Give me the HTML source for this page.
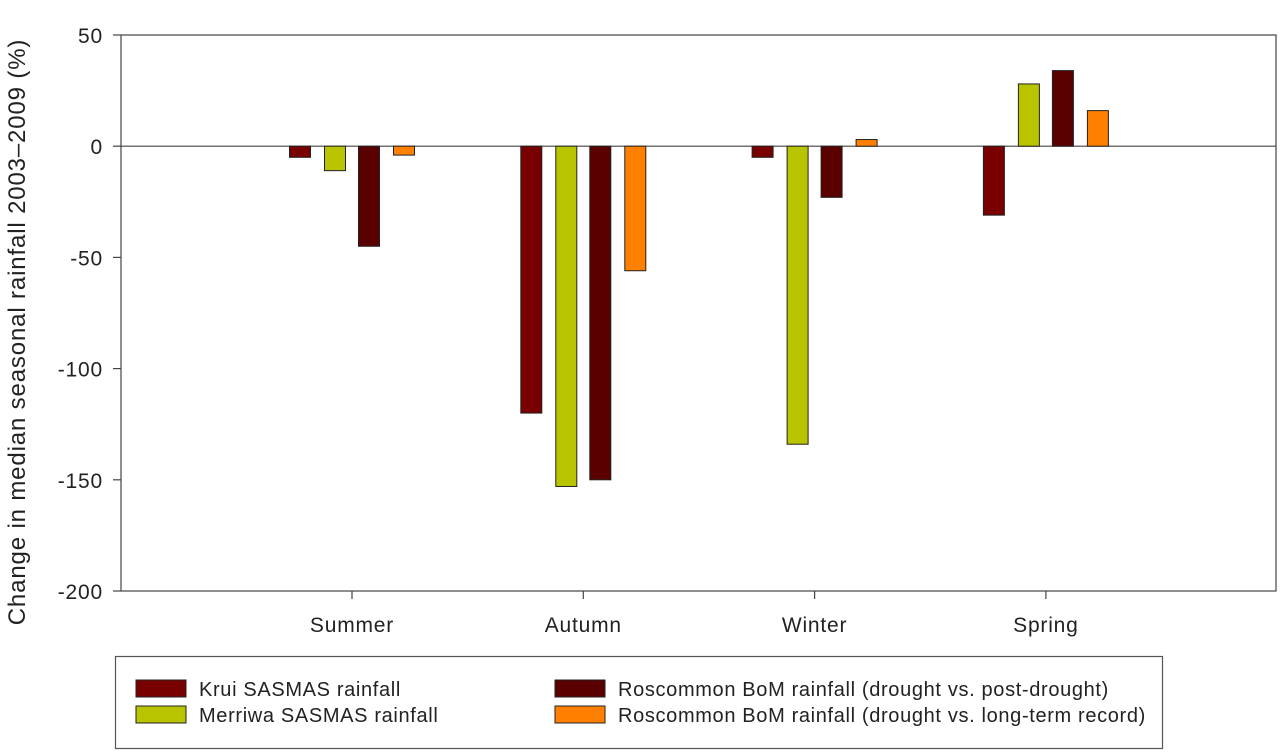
<!DOCTYPE html>
<html><head><meta charset="utf-8"><style>
body{margin:0;background:#fff;font-family:"Liberation Sans",sans-serif}
</style></head><body>
<svg id="chart" width="1280" height="750" xmlns="http://www.w3.org/2000/svg" font-family="Liberation Sans, sans-serif">
<g id="axes"></g><g id="bars"></g>
<g font-size="20" letter-spacing="0.65">
<rect x="115.5" y="656.5" width="1047" height="92" fill="#fff" stroke="#555" stroke-width="1.2"/>
<rect x="136" y="680" width="50" height="17" fill="#780000" stroke="#222"/>
<text x="199" y="696" fill="#222">Krui SASMAS rainfall</text>
<rect x="136" y="706" width="50" height="17" fill="#b8c400" stroke="#222"/>
<text x="199" y="722" fill="#222">Merriwa SASMAS rainfall</text>
<rect x="555" y="680" width="50" height="17" fill="#5a0000" stroke="#222"/>
<text x="618" y="696" fill="#222">Roscommon BoM rainfall (drought vs. post-drought)</text>
<rect x="555" y="706" width="50" height="17" fill="#ff8000" stroke="#222"/>
<text x="618" y="722" fill="#222">Roscommon BoM rainfall (drought vs. long-term record)</text>
</g>
<text transform="translate(25,332) rotate(-90)" text-anchor="middle" font-size="24" letter-spacing="0.85" fill="#222">Change in median seasonal rainfall 2003–2009 (%)</text>
</svg>
<script>
const categories=["Summer","Autumn","Winter","Spring"];
const seriesNames=["Krui SASMAS rainfall","Merriwa SASMAS rainfall","Roscommon BoM rainfall (drought vs. post-drought)","Roscommon BoM rainfall (drought vs. long-term record)"];
const krui=[-5,-120,-5,-31];
const merriwa=[-11,-153,-134,28];
const roscPost=[-45,-150,-23,34];
const roscLong=[-4,-56,3,16];
const yTicks=[50,0,-50,-100,-150,-200];
const colors=["#780000","#b8c400","#5a0000","#ff8000"];
const series=[krui,merriwa,roscPost,roscLong];
const NS="http://www.w3.org/2000/svg";
const L=121,R=1276,T=35,B=591,yMax=50,yMin=-200;
const y=v=>T+(yMax-v)*(B-T)/(yMax-yMin);
const cx=i=>352+i*231.3;
const offs=[-52,-17,17,52],bw=21;
function mk(t,a,p){const e=document.createElementNS(NS,t);for(const k in a)e.setAttribute(k,a[k]);p.appendChild(e);return e;}
const ax=document.getElementById('axes'),bg=document.getElementById('bars');
const frame=mk('rect',{x:L,y:T,width:R-L,height:B-T,fill:'none',stroke:'#444','stroke-width':1.2},ax);


yTicks.forEach(v=>{
 const tk=mk('line',{x1:113,x2:L,y1:y(v),y2:y(v),stroke:'#444','stroke-width':1.2},ax);
 
 
 const t=mk('text',{x:103,y:y(v)+8,'text-anchor':'end','font-size':21,'letter-spacing':0.8,fill:'#222'},ax);
 t.textContent=v;
 
 
});
const zl=mk('line',{x1:L,x2:R,y1:y(0),y2:y(0),stroke:'#444','stroke-width':1.2},ax);


categories.forEach((c,i)=>{
 const tk=mk('line',{x1:cx(i),x2:cx(i),y1:B,y2:B+8,stroke:'#444','stroke-width':1.2},ax);
 
 
 const t=mk('text',{x:cx(i),y:632,'text-anchor':'middle','font-size':21,'letter-spacing':0.8,fill:'#222'},ax);
 t.textContent=c;
 
 
 series.forEach((s,j)=>{
  const v=s[i],y0=y(0),y1=y(v);
  const r=mk('rect',{x:cx(i)+offs[j]-bw/2,y:Math.min(y0,y1),width:bw,height:Math.abs(y1-y0),fill:colors[j],stroke:'#222','stroke-width':1},bg);
  
  
 });
});
</script>
</body></html>
